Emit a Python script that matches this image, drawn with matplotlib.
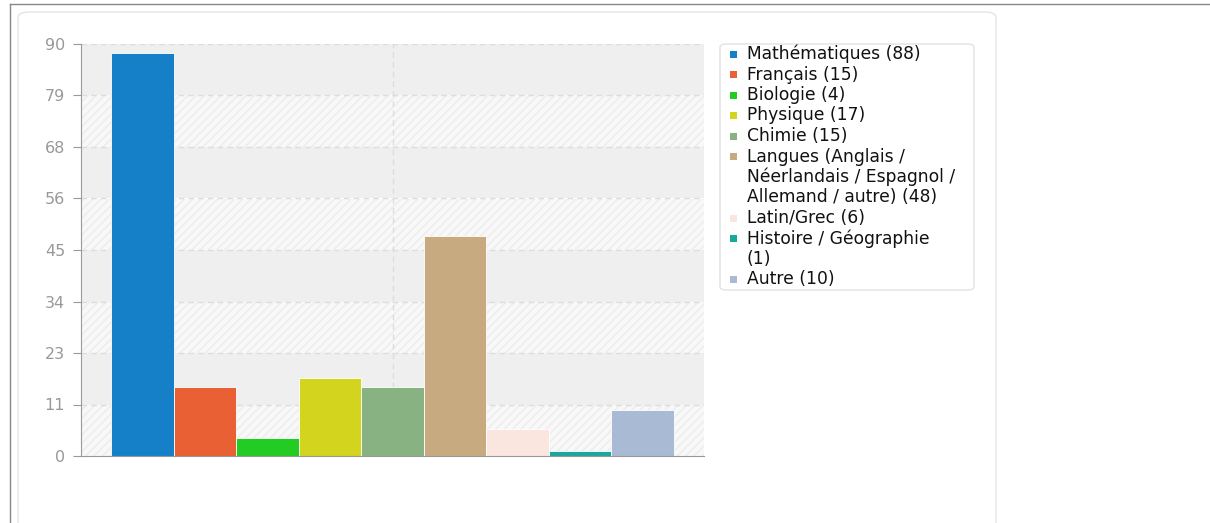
import numpy as np
import matplotlib
matplotlib.use("Agg")
import matplotlib.pyplot as plt
from matplotlib.patches import FancyBboxPatch, Rectangle
from matplotlib.lines import Line2D

# data
labels = ["Mathématiques (88)", "Français (15)", "Biologie (4)", "Physique (17)",
          "Chimie (15)", "Langues (Anglais /\nNéerlandais / Espagnol /\nAllemand / autre) (48)",
          "Latin/Grec (6)", "Histoire / Géographie\n(1)", "Autre (10)"]
values = [88, 15, 4, 17, 15, 48, 6, 1, 10]
colors = ["#1580c8", "#e86033", "#22cc22", "#d2d41e", "#88b282",
          "#c8aa80", "#fae6de", "#1aa89c", "#a8bad4"]
ymax = 90
yticks = np.linspace(0, ymax, 9)
ytick_labels = [str(int(np.floor(t + 0.5))) for t in yticks]

W, H = 1210, 523
fig = plt.figure(figsize=(W / 100, H / 100), dpi=100)

# outer frame lines + card
fig.add_artist(Line2D([10 / W, 1], [1 - 4 / H, 1 - 4 / H], color="#888888", lw=1))
fig.add_artist(Line2D([10 / W, 10 / W], [0, 1 - 4 / H], color="#888888", lw=1))
fig.add_artist(FancyBboxPatch((18 / W, -0.02), (996 - 18) / W, (1 - 12 / H) + 0.02,
                              boxstyle="round,pad=0,rounding_size=0.01",
                              transform=fig.transFigure, facecolor="white",
                              edgecolor="#e4e4e4", lw=1, zorder=0))

ax = fig.add_axes([81 / W, 1 - 456 / H, (704 - 81) / W, (456 - 44) / H])
ax.set_facecolor("none")

# alternating bands
for i in range(len(yticks) - 1):
    lo, hi = yticks[i], yticks[i + 1]
    if i % 2 == 0:
        ax.axhspan(lo, hi, facecolor="#f8f8f8", edgecolor="#ececec", hatch="////",
                   lw=0, zorder=0)
    else:
        ax.axhspan(lo, hi, facecolor="#efefef", lw=0, zorder=0)

for t in yticks[1:]:
    ax.axhline(t, color="#dddddd", lw=1, ls=(0, (4, 3)), zorder=1)
ax.axvline(4, color="#dddddd", lw=1, ls=(0, (4, 3)), zorder=1)

x = np.arange(len(values))
ax.bar(x, values, width=1.0, color=colors, edgecolor="white", lw=0.6, zorder=2)

ax.set_xlim(-0.98, 8.98)
ax.set_ylim(0, ymax)
ax.set_yticks(yticks)
ax.set_yticklabels(ytick_labels, color="#999999", fontsize=11.5)
ax.set_xticks([])
ax.tick_params(axis="y", length=6, color="#999999", pad=5.5)
for s in ["top", "right"]:
    ax.spines[s].set_visible(False)
ax.spines["left"].set_color("#999999")
ax.spines["bottom"].set_color("#999999")

# legend drawn by hand
fig.add_artist(FancyBboxPatch((720 / W, 1 - 290 / H), (974 - 720) / W, (290 - 44) / H,
                              boxstyle="round,pad=0,rounding_size=0.006",
                              transform=fig.transFigure, facecolor="white",
                              edgecolor="#e2e2e2", lw=1, zorder=3))
line_h = 20.5
ypix = 54
for lab, c in zip(labels, colors):
    fig.add_artist(Rectangle(((733 - 3.5) / W, 1 - (ypix + 3.5) / H), 7 / W, 7 / H,
                             transform=fig.transFigure, facecolor=c, edgecolor="none",
                             zorder=4))
    for ln in lab.split("\n"):
        fig.text(747 / W, 1 - ypix / H, ln, fontsize=12.3, color="#111111",
                 va="center", ha="left", zorder=5)
        ypix += line_h

fig.savefig("out.png", dpi=100)
